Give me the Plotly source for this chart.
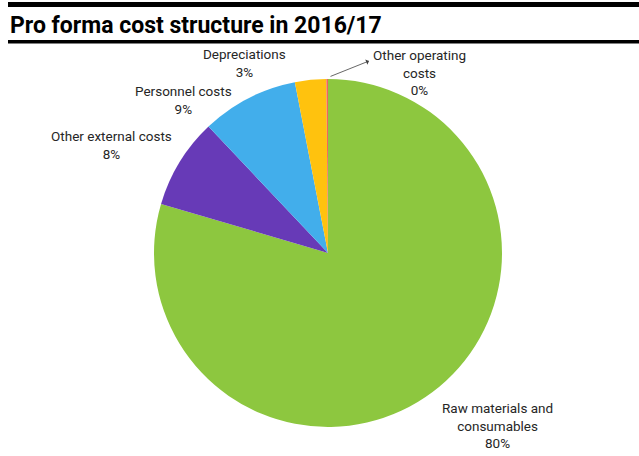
import plotly.graph_objects as go

W, H = 639, 456

# data
categories = ["Raw materials and<br>consumables", "Other external costs", "Personnel costs",
              "Depreciations", "Other operating<br>costs"]
shares = [79.55, 8.4, 9.0, 2.9, 0.15]
colors = ["#8DC73F", "#673AB7", "#42AEEB", "#FFC20E", "#F0645F"]

# label centres in pixels
label_pos = [(497, 425), (111, 145), (183, 100), (244, 63), (419, 72)]


def px(x, y):
    return x / W, 1 - y / H


fig = go.Figure()
fig.add_trace(go.Pie(
    labels=categories,
    values=shares,
    marker=dict(colors=colors, line=dict(width=0)),
    sort=False,
    direction="clockwise",
    rotation=0,
    textinfo="none",
    hoverinfo="label+percent",
    showlegend=False,
    domain=dict(x=[154 / W, 502 / W], y=[1 - 427 / H, 1 - 79 / H]),
))

total = sum(shares)
annotations = []
for cat, val, (lx, ly) in zip(categories, shares, label_pos):
    x, y = px(lx, ly)
    annotations.append(dict(
        x=x, y=y, xref="paper", yref="paper",
        text=f"{cat}<br>{round(val / total * 100)}%",
        showarrow=False, xanchor="center", yanchor="middle",
        font=dict(family="Roboto", size=13.5, color="#262626"),
    ))

# leader arrow for the thin slice
hx, hy = px(369, 61)
annotations.append(dict(
    x=hx, y=hy, xref="paper", yref="paper", text="",
    showarrow=True, arrowhead=1, arrowsize=1.2, arrowwidth=0.8, arrowcolor="#404040",
    ax=-40, ay=16,
))

tx, ty = px(8, 25)
annotations.append(dict(
    x=tx, y=ty, xref="paper", yref="paper",
    text="<b>Pro forma cost structure in 2016/17</b>",
    showarrow=False, xanchor="left", yanchor="middle",
    font=dict(family="Roboto", size=23, color="#000000"),
))

shapes = [
    dict(type="rect", xref="paper", yref="paper", x0=8 / W, x1=1, y0=1 - 7 / H, y1=1 - 2 / H,
         fillcolor="black", line_width=0),
    dict(type="rect", xref="paper", yref="paper", x0=8 / W, x1=1, y0=1 - 43.5 / H, y1=1 - 40 / H,
         fillcolor="black", line_width=0),
]

fig.update_layout(
    width=W, height=H,
    margin=dict(l=0, r=0, t=0, b=0),
    paper_bgcolor="white",
    plot_bgcolor="white",
    annotations=annotations,
    shapes=shapes,
)

fig.write_html("out.html", config={"displayModeBar": False},
               post_script="document.body.style.margin='0';")
